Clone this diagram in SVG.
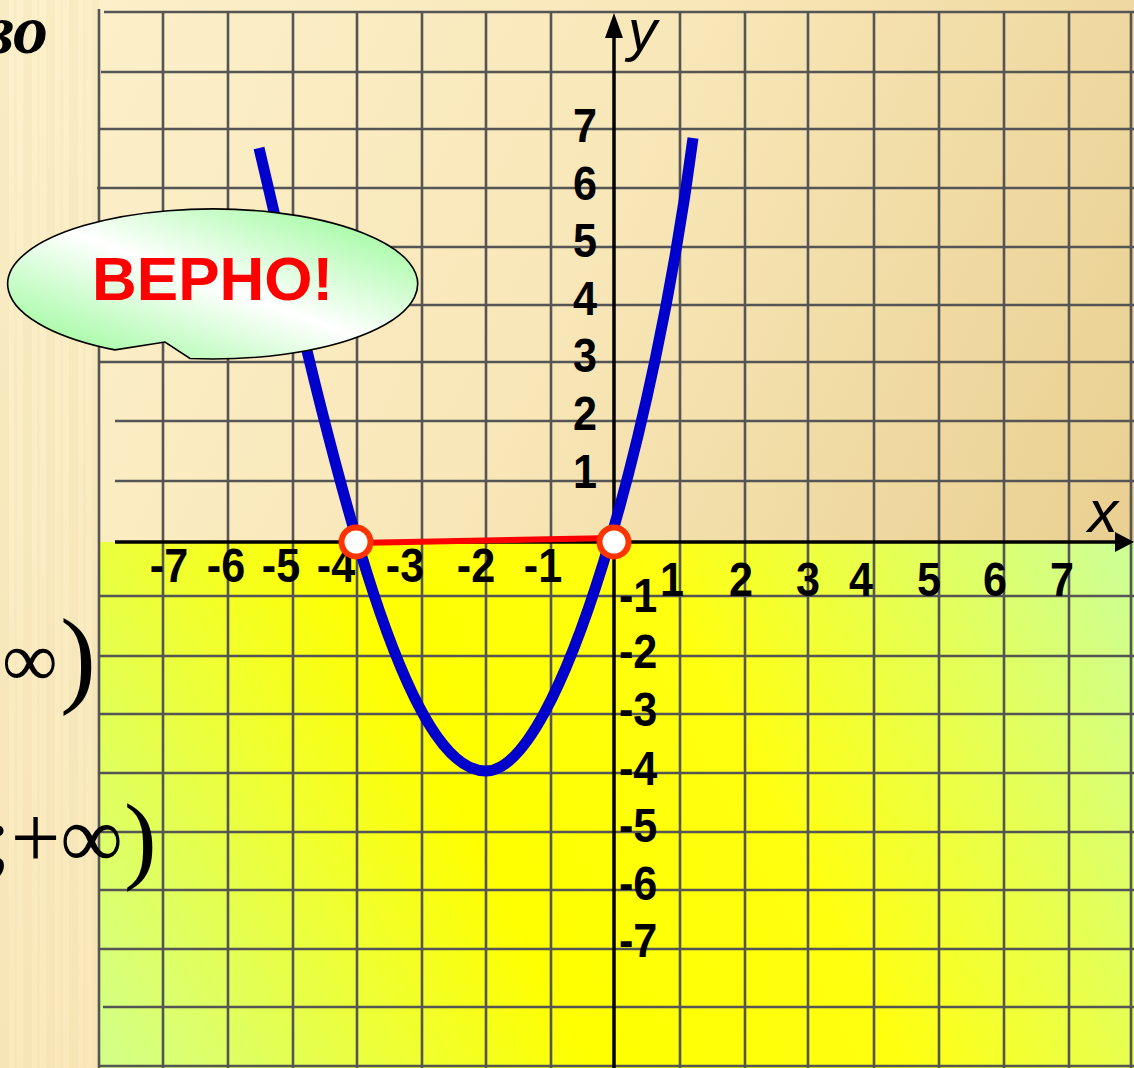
<svg xmlns="http://www.w3.org/2000/svg" width="1134" height="1068" viewBox="0 0 1134 1068">
<defs>
<linearGradient id="bg" gradientUnits="userSpaceOnUse" x1="0" y1="0" x2="1134" y2="560">
<stop offset="0" stop-color="#fdf1cc"/><stop offset="0.5" stop-color="#f8e7b8"/><stop offset="1" stop-color="#e9cf90"/>
</linearGradient>
<linearGradient id="yel" gradientUnits="userSpaceOnUse" x1="99" y1="1068" x2="1134" y2="542">
<stop offset="0" stop-color="#d2ff8a"/><stop offset="0.38" stop-color="#ffff00"/><stop offset="0.62" stop-color="#ffff10"/><stop offset="1" stop-color="#ccff99"/>
</linearGradient>
<linearGradient id="bal" x1="0" y1="1" x2="1" y2="0">
<stop offset="0" stop-color="#8cf98c"/><stop offset="0.5" stop-color="#ffffff"/><stop offset="1" stop-color="#8cf98c"/>
</linearGradient>
<pattern id="wood" width="23" height="1068" patternUnits="userSpaceOnUse">
<rect x="0" y="0" width="9" height="1068" fill="#e5c98a" opacity="0.12"/>
<rect x="14" y="0" width="3" height="1068" fill="#e5c98a" opacity="0.1"/>
</pattern>
<style>
.g{stroke:#555;stroke-width:2.6;fill:none}
.ax{stroke:#000;stroke-width:3.5;fill:none}
.n{font-family:"Liberation Sans",Arial,sans-serif;font-weight:bold;font-size:49px;fill:#000}
.m{text-anchor:middle}
.f{font-family:"Liberation Serif","Times New Roman",serif;fill:#000}
.pt{fill:#fff;stroke:#ff3300;stroke-width:6}
</style>
</defs>
<rect width="1134" height="1068" fill="url(#bg)"/>
<rect x="0" y="0" width="99" height="1068" fill="url(#wood)"/>
<rect x="99" y="542" width="1035" height="526" fill="url(#yel)"/>
<g id="grid">
<path class="g" d="M99 9V1068M163 12V1068M228 12V1068M293 12V1068M357 12V1068M422 12V1068M486 12V1068M551 12V1068M680 12V1068M745 12V1068M808 12V1068M874 12V1068M939 12V1068M1004 12V1068M1069 12V1068M1131 12V1068"/>
<path class="g" d="M104 12H1134M101 72H1134M99 129H1134M97 188H1134M99 247H1134M99 305H1134M99 362H1134M115 421H1134M115 481H1134M99 596H1134M99 656H1134M99 714H1134M99 773H1134M99 832H1134M99 890H1134M99 949H1134M103 1007H1134M99 1066H1134"/>
</g>
<g id="axes">
<path class="ax" d="M115 542H1118"/>
<polygon points="1115,532 1134,542 1115,552" fill="#000"/>
<path class="ax" d="M614 1068V36"/>
<polygon points="605,38 614,13 623,38" fill="#000"/>
<text x="628" y="50" font-family="Liberation Sans,Arial,sans-serif" font-style="italic" font-size="58" fill="#000">y</text>
<text x="1088" y="532" font-family="Liberation Sans,Arial,sans-serif" font-style="italic" font-size="60" fill="#000">x</text>
</g>
<g id="labels" transform="scale(0.88 1)">
<g class="n m">
<text x="664.8" y="142">7</text><text x="664.8" y="200">6</text><text x="664.8" y="257">5</text><text x="664.8" y="315">4</text><text x="664.8" y="372">3</text><text x="664.8" y="430">2</text><text x="664.8" y="488">1</text>
<text x="192" y="582">-7</text><text x="256.8" y="582">-6</text><text x="319.3" y="582">-5</text><text x="381.8" y="582">-4</text><text x="460.2" y="582">-3</text><text x="540.9" y="582">-2</text><text x="617" y="582">-1</text>
<text x="763.6" y="596">1</text><text x="842" y="596">2</text><text x="918.2" y="596">3</text><text x="978.4" y="596">4</text><text x="1055.7" y="596">5</text><text x="1130.7" y="596">6</text><text x="1206.8" y="596">7</text>
</g>
<g class="n">
<text x="703.4" y="612">-1</text><text x="703.4" y="668">-2</text><text x="703.4" y="726">-3</text><text x="703.4" y="785">-4</text><text x="703.4" y="842">-5</text><text x="703.4" y="900">-6</text><text x="703.4" y="957">-7</text>
</g>
</g>
<g id="interval">
<path d="M356 543L614 538" stroke="#ff0000" stroke-width="6" fill="none"/>
</g>
<g id="parabola">
<path fill="none" stroke="#0000cc" stroke-width="11" d="M259 148C330 450 400 771 486 771C560 771 655 430 693 138"/>
</g>
<g id="points">
<circle class="pt" cx="356" cy="542" r="14.5"/>
<circle class="pt" cx="614" cy="542" r="14.5"/>
</g>
<g id="callout">
<path d="M115 349.9A205 75 0 1 1 190 358.5L165 342Z" fill="url(#bal)" stroke="#000" stroke-width="1.6"/>
<text x="92" y="300" font-family="Liberation Sans,Arial,sans-serif" font-weight="bold" font-size="62" fill="#ff0000">ВЕРНО!</text>
</g>
<g id="sidetext">
<text class="f" x="48" y="53" text-anchor="end" font-size="70" font-weight="bold" font-style="italic">во</text>
<text class="f" x="2" y="686" font-size="78">∞</text>
<text class="f" x="60" y="693" font-size="108">)</text>
<text class="f" x="123" y="867" text-anchor="end" font-size="88">;+∞</text>
<text class="f" x="124" y="871" font-size="98">)</text>
</g>
</svg>
